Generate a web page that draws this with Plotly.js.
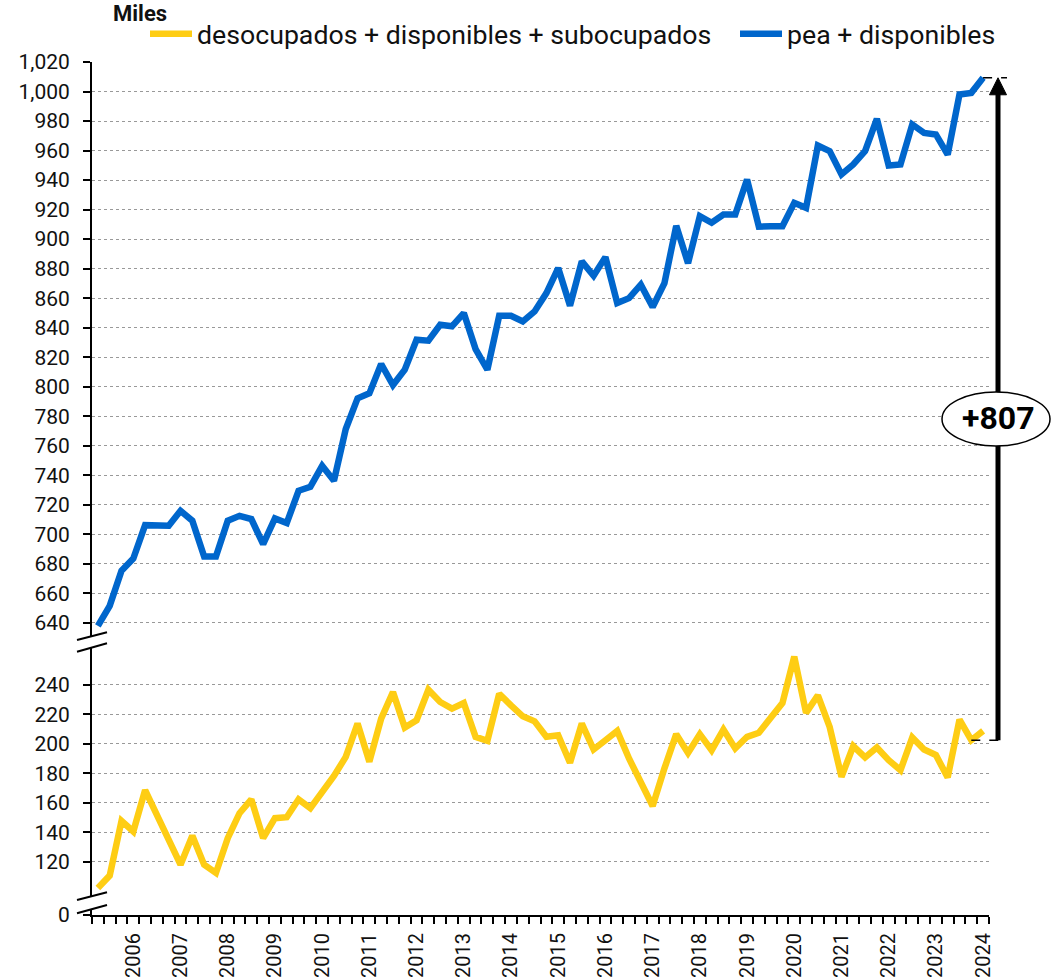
<!DOCTYPE html>
<html>
<head>
<meta charset="utf-8">
<script src="https://cdn.plot.ly/plotly-3.0.1.min.js"></script>
<style>html,body{margin:0;padding:0;background:#fff;}</style>
</head>
<body>
<div id="chart" style="width:1051px;height:978px;"></div>
<script>
// ---------- data ----------
const years = ['2006','2007','2008','2009','2010','2011','2012','2013','2014','2015','2016','2017','2018','2019','2020','2021','2022','2023','2024'];
const quarterNames = ['T1','T2','T3','T4'];
const quarters = [];
years.forEach(y => quarterNames.forEach(q => quarters.push(y + ' ' + q)));

const peaDisponibles = [
  638, 651.5, 675.3, 683.6, 706.2, 706.2, 705.8, 715.9, 709.2, 685,
  685, 709.2, 712.5, 710.3, 693.3, 710.7, 707.6, 729.5, 732.2, 746.4,
  736.3, 771.3, 792.1, 795.5, 815.4, 801.1, 811.5, 831.8, 831.2, 842,
  840.9, 849.9, 825.5, 811.5, 848.1, 848.1, 844.2, 851, 863.4, 880.4,
  854.9, 884.9, 875.2, 887.8, 856.7, 860, 869.1, 854, 870.2, 909,
  883.7, 915.6, 911.1, 916.7, 916.7, 940.4, 908.4, 908.8, 908.8, 924.6,
  921.2, 963.4, 959.6, 943.8, 950.6, 959.6, 981.5, 949.9, 950.6, 977.7,
  972, 970.9, 957.3, 998, 999.1, 1009.3
];
const desocupadosDispSub = [
  102.2, 110.6, 147.7, 140.5, 168.6, 151.8, 136, 118, 137.6, 118,
  112.4, 136, 152.9, 162.3, 136, 149.5, 150.2, 162.3, 156.3, 166.8,
  178.1, 191.1, 213.7, 187.8, 217, 235, 211, 215.9, 236.6, 228.3,
  223.8, 227.6, 204.7, 202, 233.9, 226, 218.6, 215.2, 204.7, 205.8,
  187.1, 213.7, 196.1, 202.4, 208.7, 190, 174.3, 157.8, 183.3, 206.5,
  193.8, 206.5, 195.6, 209.6, 196.8, 204.7, 207.4, 217.7, 227.6, 259.1,
  220.9, 232.8, 211.4, 177.6, 198.4, 190.7, 197.5, 188.9, 182.1, 204.2,
  196.1, 192.3, 177.2, 216.4, 202.4, 208.7
];
const seriesNames = ['desocupados + disponibles + subocupados', 'pea + disponibles'];
const upperTicks = [640,660,680,700,720,740,760,780,800,820,840,860,880,900,920,940,960,980,1000,1020];
const lowerTicks = [120,140,160,180,200,220,240];
const bottomTicks = [0];
const unitLabel = 'Miles';
const diffLabel = '+807';

// ---------- geometry ----------
const FW = 1051, FH = 978;
const L = 92, R = 62, T = 62, B = 63;
const W = FW - L - R, H = FH - T - B;
const pxX = px => (px - L) / W;
const pxY = py => (T + H - py) / H;

const xIdx = quarters.map((q, i) => i);
const xRange = [-0.5, quarters.length - 0.5];
const yUpper = {domain: [pxY(636), 1], range: [631.1, 1020]};
const yMid = {domain: [pxY(896), pxY(647)], range: [96.75, 265.6]};
const yBot = {domain: [0, pxY(909)], range: [0, 1]};
const valY = (ax, v) => ax.domain[0] + (v - ax.range[0]) / (ax.range[1] - ax.range[0]) * (ax.domain[1] - ax.domain[0]);
const idxX = i => (i - xRange[0]) / (xRange[1] - xRange[0]);

const FONT = 'Roboto, Arial, sans-serif';
const YELLOW = '#FECD14';
const BLUE = '#0066CC';

const traces = [
  {x: xIdx, y: desocupadosDispSub, name: seriesNames[0], type: 'scatter', mode: 'lines',
   line: {color: YELLOW, width: 6.5, shape: 'linear'}, xaxis: 'x', yaxis: 'y2', hoverinfo: 'skip',
   legend: 'legend'},
  {x: xIdx, y: peaDisponibles, name: seriesNames[1], type: 'scatter', mode: 'lines',
   line: {color: BLUE, width: 6.5}, xaxis: 'x', yaxis: 'y', hoverinfo: 'skip', legend: 'legend2'},
  // empty trace so the bottom (zero) axis segment exists
  {x: [], y: [], type: 'scatter', mode: 'lines', xaxis: 'x', yaxis: 'y3', showlegend: false, hoverinfo: 'skip'}
];

const yCommon = {
  showline: true, linecolor: '#000', linewidth: 2,
  ticks: 'outside', ticklen: 7, tickwidth: 2, tickcolor: '#000',
  tickfont: {family: FONT, size: 21, color: '#111'},
  showgrid: true, gridcolor: '#999', gridwidth: 1, griddash: 'dot',
  zeroline: false, tickmode: 'array', tickformat: ',d', anchor: 'x',
  ticklabelstandoff: 9, fixedrange: true
};

const lastIdx = quarters.length - 1;
const arrowX = pxX(998);
const yTop = valY(yUpper, peaDisponibles[lastIdx]);
const yBottom = valY(yMid, desocupadosDispSub[lastIdx - 1]);
const headL = 17 / H, headW = 8.5 / W;

function slash(x0, y0, x1, y1) {
  return {type: 'line', xref: 'paper', yref: 'paper', x0: pxX(x0), y0: pxY(y0), x1: pxX(x1), y1: pxY(y1),
          line: {color: '#000', width: 2}};
}

const shapes = [
  {type: 'line', xref: 'paper', yref: 'paper', x0: arrowX, x1: arrowX, y0: yBottom, y1: yTop - headL * 0.6,
   line: {color: '#000', width: 5}},
  {type: 'path', xref: 'paper', yref: 'paper',
   path: `M ${arrowX - headW},${yTop - headL} L ${arrowX + headW},${yTop - headL} L ${arrowX},${yTop} Z`,
   fillcolor: '#000', line: {color: '#000', width: 1}},
  {type: 'line', xref: 'paper', yref: 'paper', x0: idxX(lastIdx), x1: pxX(1007), y0: yTop, y1: yTop,
   line: {color: '#000', width: 1.5, dash: 'dash'}},
  {type: 'line', xref: 'paper', yref: 'paper', x0: idxX(lastIdx - 1), x1: pxX(1004), y0: yBottom, y1: yBottom,
   line: {color: '#000', width: 1.5, dash: 'dash'}},
  {type: 'circle', xref: 'paper', yref: 'paper', x0: pxX(942), x1: pxX(1050), y0: pxY(446), y1: pxY(392),
   fillcolor: '#fff', line: {color: '#000', width: 1.5}},
  slash(77, 640, 107, 632.3),
  slash(77, 651.7, 107, 643.3),
  slash(77, 900, 107, 892.3),
  slash(77, 913.3, 107, 905)
];

const legendCommon = {orientation: 'h', xanchor: 'left', yanchor: 'middle', y: pxY(34),
  font: {family: FONT, size: 26.7, color: '#111'}, bgcolor: 'rgba(0,0,0,0)', itemwidth: 42};

const layout = {
  width: FW, height: FH,
  margin: {l: L, r: R, t: T, b: B, pad: 0, autoexpand: false},
  paper_bgcolor: '#fff', plot_bgcolor: '#fff',
  font: {family: FONT, color: '#111'},
  showlegend: true,
  legend: Object.assign({}, legendCommon, {x: pxX(145)}),
  legend2: Object.assign({}, legendCommon, {x: pxX(735)}),
  xaxis: {
    anchor: 'y3', range: xRange, tickmode: 'array',
    tickvals: years.map((y, i) => i * 4 + 3), ticktext: years,
    tickangle: -90, ticks: '', showgrid: false, zeroline: false,
    showline: true, linecolor: '#000', linewidth: 2,
    tickfont: {family: FONT, size: 20, color: '#111'},
    ticklabelstandoff: 8, fixedrange: true, automargin: false,
    minor: {ticks: 'outside', tickmode: 'linear', tick0: -0.5, dtick: 1, ticklen: 7, tickwidth: 2,
            tickcolor: '#000', showgrid: false}
  },
  yaxis: Object.assign({}, yCommon, {domain: yUpper.domain, range: yUpper.range, tickvals: upperTicks}),
  yaxis2: Object.assign({}, yCommon, {domain: yMid.domain, range: yMid.range, tickvals: lowerTicks}),
  yaxis3: Object.assign({}, yCommon, {domain: yBot.domain, range: yBot.range, tickvals: bottomTicks, showgrid: false}),
  shapes: shapes,
  annotations: [
    {xref: 'paper', yref: 'paper', x: pxX(112), y: pxY(0), xanchor: 'left', yanchor: 'top',
     text: '<b>' + unitLabel + '</b>', showarrow: false, font: {family: FONT, size: 22, color: '#111'},
     borderpad: 0},
    {xref: 'paper', yref: 'paper', x: pxX(998), y: pxY(418), xanchor: 'center', yanchor: 'middle',
     text: '<b>' + diffLabel + '</b>', showarrow: false, font: {family: FONT, size: 32, color: '#000'}}
  ]
};

Plotly.newPlot('chart', traces, layout, {displayModeBar: false, staticPlot: true});
</script>
</body>
</html>
